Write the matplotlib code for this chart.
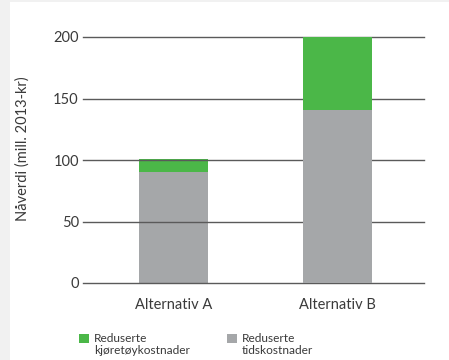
import matplotlib
matplotlib.use("Agg")
import matplotlib.pyplot as plt
from matplotlib.patches import Rectangle

categories = ["Alternativ A", "Alternativ B"]
tidskostnader = [90, 141]
kjoretoykostnader = [11, 59]
yticks = [0, 50, 100, 150, 200]
ylabel = "Nåverdi (mill. 2013-kr)"
legend_labels = ["Reduserte\nkjøretøykostnader", "Reduserte\ntidskostnader"]

GREEN = "#4bb748"
GREY = "#a5a7a9"
TEXT = "#3a3a3a"
LINE = "#5a5a5a"

plt.rcParams['font.family'] = ['Lato', 'DejaVu Sans']

W, H = 449, 360
fig = plt.figure(figsize=(W/100, H/100), dpi=100)
fig.patch.set_facecolor("#f1f1f1")
bg = Rectangle((10/W, 0), 1 - 10/W, 1 - 1.5/H, transform=fig.transFigure,
               facecolor="white", edgecolor="none", zorder=-10)
fig.add_artist(bg)

ax = fig.add_axes([83/W, 1 - 283/H, 341/W, 246/H])
ax.set_facecolor("none")
for s in ax.spines.values():
    s.set_visible(False)

x = list(range(len(categories)))
w = 0.42
for i in x:
    z = 1 if i == 0 else 3
    ax.bar(i, tidskostnader[i], width=w, color=GREY, zorder=z)
    ax.bar(i, kjoretoykostnader[i], bottom=tidskostnader[i], width=w, color=GREEN, zorder=z)

for t in yticks:
    ax.axhline(t, color=LINE, lw=1.0, zorder=2, clip_on=False)

ax.set_xlim(-0.552, 1.527)
ax.set_ylim(0, 200)
ax.set_yticks(yticks)
ax.set_yticklabels([str(t) for t in yticks], fontsize=10.5, color=TEXT)
ax.set_xticks(x)
ax.set_xticklabels(categories, fontsize=10.5, color=TEXT)
ax.tick_params(axis='y', length=0, pad=3)
ax.tick_params(axis='x', length=0, pad=11)
ax.set_ylabel(ylabel, fontsize=10.5, color=TEXT)
ax.yaxis.set_label_coords(-0.155, 0.545)

# legend (manual)
legend_colors = [GREEN, GREY]
legend_x = [79, 227]
for lx, col, lab in zip(legend_x, legend_colors, legend_labels):
    fig.add_artist(Rectangle((lx/W, 1 - 343/H), 10/W, 9/H, transform=fig.transFigure,
                             facecolor=col, edgecolor="none"))
    fig.text((lx + 15)/W, 1 - 333.5/H, lab, fontsize=8.6, color=TEXT, va="top", ha="left",
             linespacing=1.08)

fig.savefig("out.png", dpi=100, facecolor=fig.get_facecolor())
